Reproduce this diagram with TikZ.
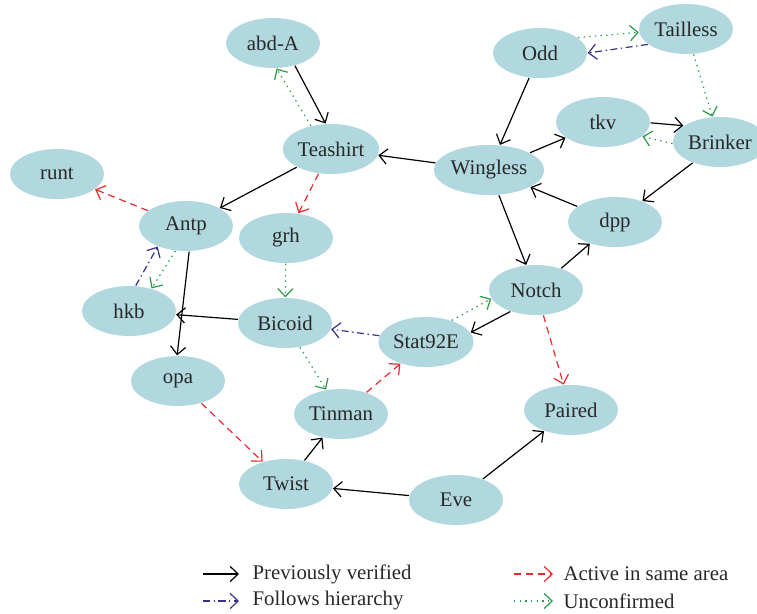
\documentclass[tikz,border=0pt]{standalone}
\usepackage{fontspec}
\setmainfont{Liberation Serif}
\usepackage{tikz}
\usetikzlibrary{positioning,arrows.meta,shapes.geometric}
\definecolor{genefill}{RGB}{176,216,222}
\definecolor{genetext}{RGB}{40,40,40}
\definecolor{actred}{RGB}{235,40,45}
\definecolor{hierblue}{RGB}{55,50,130}
\definecolor{unconfgreen}{RGB}{40,155,70}
\tikzset{gene/.style={
    ellipse, fill=genefill, text=genetext, inner sep=0.5pt,
    minimum width=2.35cm, minimum height=1.25cm,
    font=\fontsize{14.8}{17}\selectfont
    },
    verified/.style={->, black},
    active/.style={->, actred, dash pattern=on 5pt off 3.5pt},
    hierarchy/.style={->, hierblue, dash pattern=on 5pt off 2.5pt on 1pt off 2.5pt},
    unconfirmed/.style={->, unconfgreen, dash pattern=on 1pt off 3pt},
    legtext/.style={anchor=west, text=genetext, font=\fontsize{14.8}{17}\selectfont, inner sep=0pt}
}

\begin{document}
\begin{tikzpicture}[x=0.025cm, y=-0.025cm, line width=0.85pt,
    >={Straight Barb[length=2mm,width=3.8mm]}]
		\useasboundingbox (0,0) rectangle (757,613);

		\node[gene] (abdA) at (273,43) {abd-A};
		\node[gene] (Teashirt) at (331,149) {Teashirt};
		\node[gene] (runt) at (57,174) {runt};
		\node[gene] (Antp) at (186,226) {Antp};
		\node[gene] (grh) at (286,238) {grh};
		\node[gene] (hkb) at (129,311) {hkb};
		\node[gene] (Bicoid) at (285,323) {Bicoid};
		\node[gene] (opa) at (178,381) {opa};
		\node[gene] (Tinman) at (341,414) {Tinman};
		\node[gene] (Twist) at (286,484) {Twist};
		\node[gene] (Eve) at (456,500) {Eve};
		\node[gene] (Stat) at (426,342) {Stat92E};
		\node[gene] (Notch) at (536,290) {Notch};
		\node[gene] (Paired) at (571,410) {Paired};
		\node[gene] (dpp) at (615,222) {dpp};
		\node[gene] (Wingless) at (489,170) {Wingless};
		\node[gene] (tkv) at (603,122) {tkv};
		\node[gene] (Brinker) at (720,142) {Brinker};
		\node[gene] (Odd) at (540,53) {Odd};
		\node[gene] (Tailless) at (686,29) {Tailless};

		% edges
		\draw [verified] (abdA.-46) -- (Teashirt.102);
		\draw [unconfirmed] (Teashirt.131) -- (abdA.-82);
		\draw [verified] (Wingless) -- (Teashirt);
		\draw [verified] (Teashirt) -- (Antp);
		\draw [active] (Teashirt) -- (grh);
		\draw [active] (Antp) -- (runt);
		\draw [hierarchy] (hkb.75) -- (Antp.216);
		\draw [unconfirmed] (Antp.247) -- (hkb.45);
		\draw [verified] (Antp.-83) -- (opa.92);
		\draw [verified] (Bicoid) -- (hkb);
		\draw [unconfirmed] (grh) -- (Bicoid);
		\draw [hierarchy] (Stat) -- (Bicoid);
		\draw [unconfirmed] (Bicoid) -- (Tinman);
		\draw [active] (Tinman) -- (Stat);
		\draw [verified] (Notch.220) -- (Stat.12);
		\draw [unconfirmed] (Stat.40) -- (Notch.191);
		\draw [verified] (Wingless) -- (Notch);
		\draw [verified] (Notch) -- (dpp);
		\draw [verified] (dpp) -- (Wingless);
		\draw [verified] (Wingless) -- (tkv);
		\draw [verified] (tkv.-1) -- (Brinker.156);
		\draw [unconfirmed] (Brinker.182) -- (tkv.-20);
		\draw [verified] (Brinker) -- (dpp);
		\draw [verified] (Odd) -- (Wingless);
		\draw [unconfirmed] (Odd.22) -- (Tailless.184);
		\draw [hierarchy] (Tailless.202) -- (Odd.0);
		\draw [unconfirmed] (Tailless) -- (Brinker);
		\draw [active] (Notch) -- (Paired);
		\draw [active] (opa) -- (Twist);
		\draw [verified] (Twist) -- (Tinman);
		\draw [verified] (Eve) -- (Twist);
		\draw [verified] (Eve) -- (Paired);

		% legend
		\coordinate (L1a) at (203,574); \coordinate (L1b) at (239,574);
		\coordinate (L2a) at (203,601); \coordinate (L2b) at (239,601);
		\coordinate (L3a) at (514,574); \coordinate (L3b) at (553,574);
		\coordinate (L4a) at (514,601); \coordinate (L4b) at (553,601);
		\draw [verified] (L1a) -- (L1b);
		\draw [hierarchy] (L2a) -- (L2b);
		\draw [active] (L3a) -- (L3b);
		\draw [unconfirmed] (L4a) -- (L4b);
		\node[legtext] (T1) at (252,574) {Previously verified};
		\node[legtext] (T2) at (252,601) {Follows hierarchy};
		\node[legtext] (T3) at (563,574) {Active in same area};
		\node[legtext] (T4) at (563,601) {Unconfirmed};
	\end{tikzpicture}
\end{document}
